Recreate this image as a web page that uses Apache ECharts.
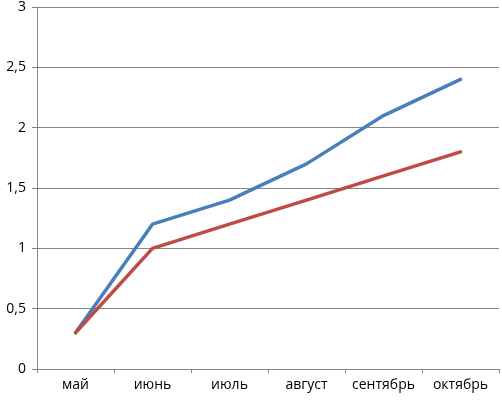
<!DOCTYPE html>
<html><head><meta charset="utf-8">
<script src="https://cdn.jsdelivr.net/npm/echarts@6/dist/echarts.min.js"></script>
<style>html,body{margin:0;padding:0;background:#fff}#c{width:502px;height:401px}</style>
</head><body><div id="c"></div>
<script>
var categories = ['май','июнь','июль','август','сентябрь','октябрь'];
var seriesBlue = [0.3, 1.2, 1.4, 1.7, 2.1, 2.4];
var seriesRed = [0.3, 1.0, 1.2, 1.4, 1.6, 1.8];
var chart = echarts.init(document.getElementById('c'), null, {renderer:'canvas'});
var font = '"Open Sans", "Noto Sans", sans-serif';
chart.setOption({
  animation:false,
  grid:{left:37,right:3,top:7,bottom:32,containLabel:false},
  xAxis:{type:'category',data:categories,boundaryGap:true,
    axisLine:{lineStyle:{color:'#868686',width:1}},
    axisTick:{show:true,length:4,interval:0,lineStyle:{color:'#868686'}},
    axisLabel:{color:'#000',fontSize:14,fontFamily:font,margin:9,interval:0,hideOverlap:false}},
  yAxis:{type:'value',min:0,max:3,interval:0.5,
    axisLine:{show:true,lineStyle:{color:'#868686',width:1}},
    axisTick:{show:true,length:5,lineStyle:{color:'#868686'}},
    splitLine:{lineStyle:{color:'#868686',width:1}},
    axisLabel:{color:'#000',fontSize:14,fontFamily:font,margin:11,
      formatter:function(v){return String(v).replace('.',',');}}},
  series:[
    {type:'line',data:seriesBlue,symbol:'none',lineStyle:{color:'#4a7ebb',width:3.5,cap:'round',join:'round'},itemStyle:{color:'#4a7ebb'}},
    {type:'line',data:seriesRed,symbol:'none',lineStyle:{color:'#be4b48',width:3.5,cap:'round',join:'round'},itemStyle:{color:'#be4b48'}}
  ]
});
</script></body></html>
